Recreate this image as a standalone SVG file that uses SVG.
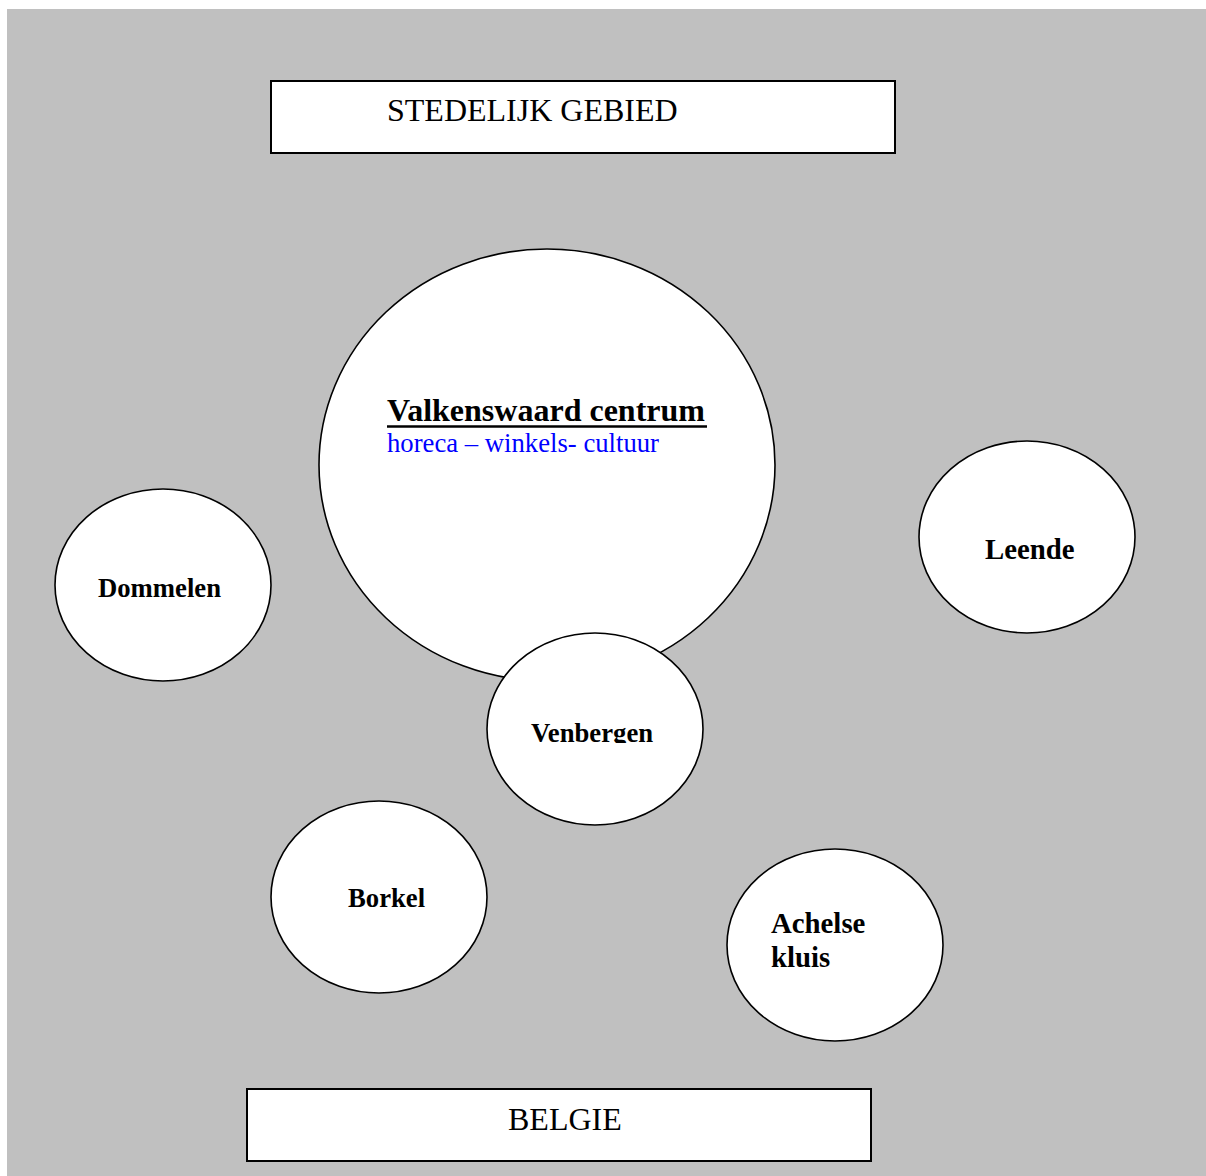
<svg xmlns="http://www.w3.org/2000/svg" width="1206" height="1176" viewBox="0 0 1206 1176">
<style>
.box{fill:#fff;stroke:#000;stroke-width:2}
.node{fill:#fff;stroke:#000;stroke-width:1.6}
.t{font-family:"Liberation Serif","Times New Roman",serif;fill:#000}
.b{font-weight:bold;font-size:26.7px}
.bl{font-weight:bold;font-size:28.8px}
</style>
<defs>
<clipPath id="venclip"><rect x="487" y="633" width="216" height="110"/></clipPath>
</defs>
<rect x="7" y="9" width="1199" height="1167" fill="#c0c0c0"/>
<g id="stedelijk">
<rect class="box" x="271" y="81" width="624" height="72"/>
<text class="t" x="387" y="121" font-size="32">STEDELIJK GEBIED</text>
</g>
<g id="belgie">
<rect class="box" x="247" y="1089" width="624" height="72"/>
<text class="t" x="508" y="1130" font-size="32">BELGIE</text>
</g>
<g id="valkenswaard">
<ellipse class="node" cx="547" cy="465" rx="228" ry="216"/>
<text class="t" x="387" y="421" font-size="32" font-weight="bold">Valkenswaard centrum</text>
<line x1="387" y1="426.5" x2="707" y2="426.5" stroke="#000" stroke-width="2.5"/>
<text class="t" x="387" y="452" font-size="26.7" style="fill:#0000ff">horeca – winkels- cultuur</text>
</g>
<g id="dommelen">
<ellipse class="node" cx="163" cy="585" rx="108" ry="96"/>
<text class="t b" x="98" y="597">Dommelen</text>
</g>
<g id="leende">
<ellipse class="node" cx="1027" cy="537" rx="108" ry="96"/>
<text class="t bl" x="985" y="559">Leende</text>
</g>
<g id="venbergen">
<ellipse class="node" cx="595" cy="729" rx="108" ry="96"/>
<text class="t b" x="531" y="742" clip-path="url(#venclip)">Venbergen</text>
</g>
<g id="borkel">
<ellipse class="node" cx="379" cy="897" rx="108" ry="96"/>
<text class="t b" x="348" y="907">Borkel</text>
</g>
<g id="achelse">
<ellipse class="node" cx="835" cy="945" rx="108" ry="96"/>
<text class="t bl" x="771" y="933">Achelse</text>
<text class="t bl" x="771" y="967">kluis</text>
</g>
<g id="connectors"></g>
</svg>
